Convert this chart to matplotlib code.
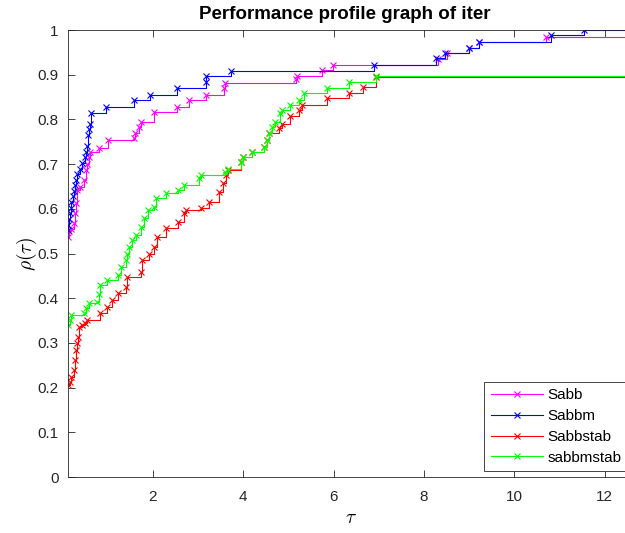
import matplotlib
matplotlib.use('Agg')
import matplotlib.pyplot as plt

plt.rcParams['font.family'] = ['Liberation Sans', 'DejaVu Sans']
plt.rcParams['mathtext.fontset'] = 'cm'

TITLE = 'Performance profile graph of iter'
NAMES = ['Sabb', 'Sabbm', 'Sabbstab', 'sabbmstab']
COLORS = ['#ff00ff', '#0000ff', '#ff0000', '#00ff00']

# tau / rho breakpoints
tau_sabb = [0.12, 0.15, 0.2, 0.26, 0.28, 0.3, 0.33, 0.4, 0.48, 0.52, 0.55, 0.59, 0.62,
            0.82, 1.0, 1.58, 1.6, 1.69, 1.73, 2.02, 2.54, 2.8, 3.18, 3.58, 3.6, 5.17,
            5.18, 5.75, 5.98, 8.32, 8.5, 8.99, 9.22, 10.7, 12.7]
rho_sabb = [0.537, 0.55, 0.556, 0.568, 0.59, 0.613, 0.642, 0.65, 0.665, 0.687, 0.7, 0.716,
            0.727, 0.736, 0.754, 0.758, 0.77, 0.783, 0.794, 0.817, 0.828, 0.843, 0.855,
            0.870, 0.882, 0.89, 0.897, 0.91, 0.923, 0.935, 0.948, 0.96, 0.973, 0.985, 0.985]

tau_sabbm = [0.12, 0.12, 0.15, 0.17, 0.19, 0.2, 0.23, 0.25, 0.28, 0.3, 0.33, 0.38, 0.43,
             0.5, 0.53, 0.55, 0.57, 0.59, 0.61, 0.63, 0.97, 1.58, 1.94, 2.53, 3.18, 3.18,
             3.72, 6.9, 8.27, 8.47, 8.99, 9.22, 10.81, 11.55, 12.7]
rho_sabbm = [0.553, 0.565, 0.578, 0.59, 0.603, 0.615, 0.628, 0.64, 0.653, 0.665, 0.678,
             0.69, 0.703, 0.715, 0.728, 0.74, 0.765, 0.778, 0.79, 0.815, 0.828, 0.843,
             0.855, 0.870, 0.884, 0.897, 0.909, 0.922, 0.937, 0.948, 0.96, 0.973, 0.989,
             1.0, 1.0]

tau_sabbstab = [0.12, 0.17, 0.2, 0.25, 0.28, 0.3, 0.33, 0.35, 0.37, 0.44, 0.5, 0.55, 0.84,
                0.99, 1.1, 1.24, 1.4, 1.44, 1.73, 1.77, 1.92, 2.02, 2.1, 2.29, 2.55, 2.7,
                2.73, 3.07, 3.25, 3.47, 3.56, 3.63, 3.67, 3.96, 4.0, 4.19, 4.45, 4.52,
                4.57, 4.79, 4.86, 5.04, 5.24, 5.31, 5.86, 6.35, 6.64, 6.93, 12.7]
rho_sabbstab = [0.205, 0.213, 0.224, 0.24, 0.262, 0.284, 0.3, 0.313, 0.336, 0.34, 0.344,
                0.351, 0.367, 0.38, 0.396, 0.411, 0.425, 0.447, 0.459, 0.485, 0.5, 0.515,
                0.537, 0.557, 0.57, 0.59, 0.597, 0.601, 0.616, 0.638, 0.657, 0.675, 0.687,
                0.705, 0.716, 0.727, 0.738, 0.754, 0.77, 0.78, 0.79, 0.808, 0.821, 0.832,
                0.848, 0.859, 0.872, 0.895, 0.895]

tau_sabbmstab = [0.12, 0.17, 0.2, 0.48, 0.52, 0.59, 0.77, 0.8, 0.84, 0.99, 1.22, 1.29,
                 1.4, 1.44, 1.47, 1.55, 1.62, 1.73, 1.8, 1.89, 2.02, 2.07, 2.29, 2.55, 2.7,
                 3.03, 3.07, 3.59, 3.67, 3.96, 4.0, 4.19, 4.45, 4.52, 4.57, 4.63, 4.7,
                 4.81, 4.86, 5.04, 5.24, 5.35, 5.86, 6.35, 6.93, 12.7]
rho_sabbmstab = [0.34, 0.352, 0.362, 0.367, 0.378, 0.389, 0.392, 0.41, 0.43, 0.44, 0.452,
                 0.47, 0.485, 0.5, 0.515, 0.53, 0.541, 0.56, 0.579, 0.597, 0.604, 0.624,
                 0.635, 0.642, 0.653, 0.669, 0.675, 0.682, 0.69, 0.705, 0.716, 0.727,
                 0.738, 0.754, 0.77, 0.783, 0.794, 0.814, 0.821, 0.832, 0.843, 0.859,
                 0.87, 0.884, 0.897, 0.897]

series = [(tau_sabb, rho_sabb), (tau_sabbm, rho_sabbm),
          (tau_sabbstab, rho_sabbstab), (tau_sabbmstab, rho_sabbmstab)]

fig = plt.figure(figsize=(6.25, 5.33), dpi=100)
ax = fig.add_axes([0.1083, 0.105, 0.905, 0.8385])

for (t, r), name, c in zip(series, NAMES, COLORS):
    # last point only carries the line to the edge, no marker
    ax.step(t[:-1], r[:-1], where='post', color=c, lw=0.8, marker='x', ms=4.5,
            mew=0.8, label=name)
    ax.plot([t[-2], t[-1]], [r[-2], r[-1]], color=c, lw=0.8)

ax.set_xlim(0.118, 12.63)
ax.set_ylim(0, 1)
ax.set_xticks([2, 4, 6, 8, 10, 12])
ax.set_yticks([i / 10 for i in range(11)])
ax.set_yticklabels(['0', '0.1', '0.2', '0.3', '0.4', '0.5', '0.6', '0.7', '0.8', '0.9', '1'])
ax.tick_params(direction='in', length=5, width=0.6, colors='#262626', labelsize=11,
               top=True, right=True)
ax.tick_params(axis='x', pad=9.5)
ax.tick_params(axis='y', pad=6.5)
for s in ax.spines.values():
    s.set_color('#262626')
    s.set_linewidth(0.6)

ax.set_title(TITLE, fontsize=13.5, fontweight='bold', pad=8, x=0.49)
ax.set_xlabel(r'$\tau$', fontsize=14, labelpad=4.5)
ax.set_ylabel(r'$\rho(\tau)$', fontsize=14, labelpad=-1)

leg = ax.legend(loc='lower right', fontsize=11, fancybox=False, framealpha=1,
                edgecolor='#262626', borderpad=0.4, handlelength=3.4, handletextpad=0.3,
                labelspacing=0.45, borderaxespad=0.4, bbox_to_anchor=(1.0, 0.0))
leg.get_frame().set_linewidth(0.6)

fig.savefig('out.png', dpi=100)
